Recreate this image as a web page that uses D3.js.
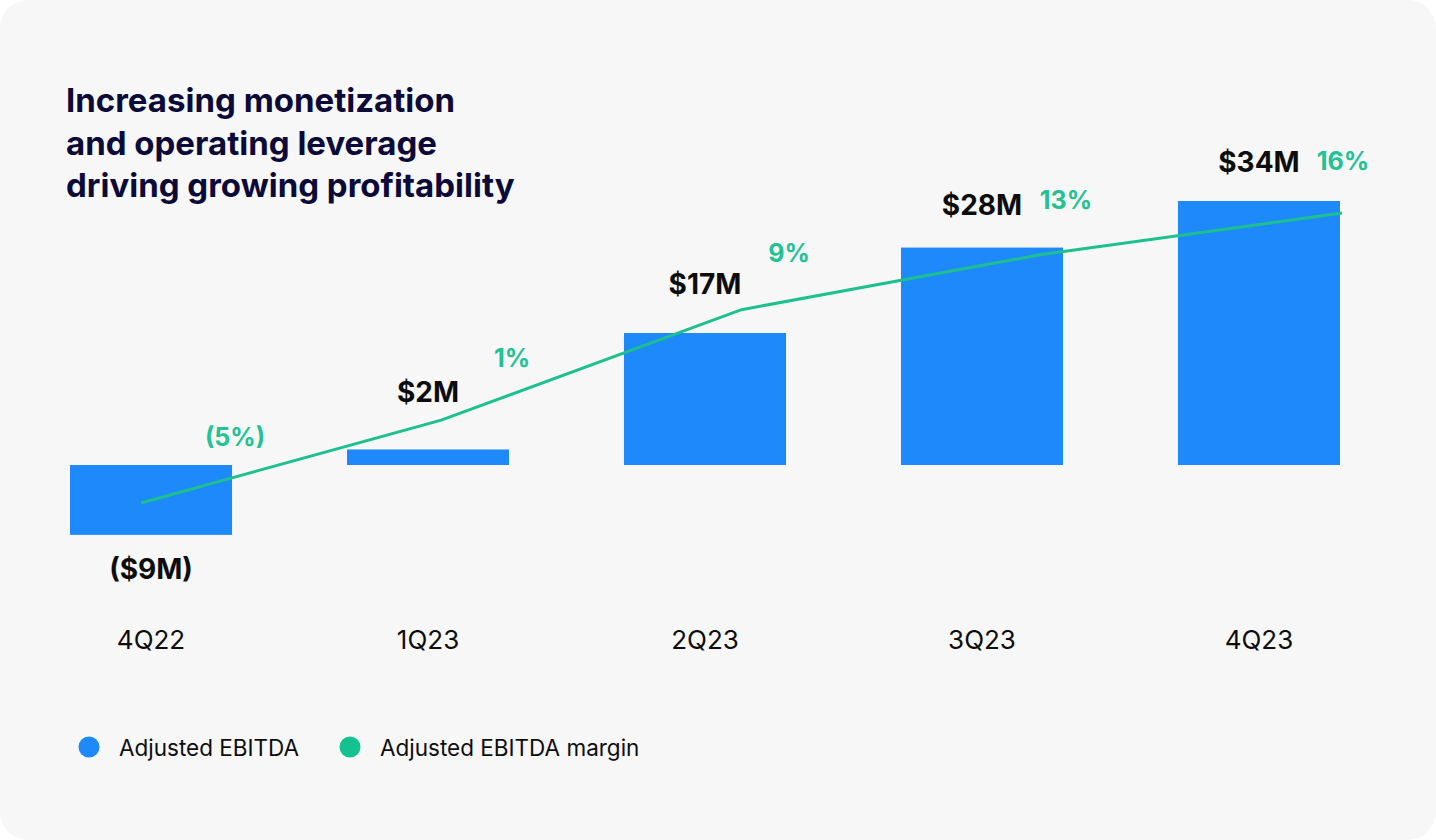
<!DOCTYPE html>
<html>
<head>
<meta charset="utf-8">
<script src="https://cdn.jsdelivr.net/npm/d3@7"></script>
<style>
  html, body { margin: 0; padding: 0; background: #ffffff; }
  svg { display: block; }
</style>
</head>
<body>
<div id="chart"></div>
<script>
// chart data
var quarters = ["4Q22", "1Q23", "2Q23", "3Q23", "4Q23"];
var ebitda = [-9, 2, 17, 28, 34];          // $M
var ebitdaLabels = ["($9M)", "$2M", "$17M", "$28M", "$34M"];
var margin = [-5, 1, 9, 13, 16];           // %
var marginLabels = ["(5%)", "1%", "9%", "13%", "16%"];
var titleLines = ["Increasing monetization", "and operating leverage", "driving growing profitability"];
var legendItems = ["Adjusted EBITDA", "Adjusted EBITDA margin"];

var width = 1436, height = 840;
var blue = "#1e89fb", green = "#1cc18f", ink = "#0d0d0d", navy = "#0b0a38";
var font = "Inter, 'Noto Sans', sans-serif";

var svg = d3.select("#chart").append("svg")
  .attr("width", width)
  .attr("height", height);

// card background
svg.append("rect")
  .attr("x", 0).attr("y", 0)
  .attr("width", width).attr("height", height)
  .attr("rx", 28).attr("ry", 28)
  .attr("fill", "#f7f7f7");

// title
svg.append("text")
  .attr("x", 66).attr("y", 112)
  .attr("font-family", font)
  .attr("font-weight", 700)
  .attr("font-size", "33px")
  .attr("fill", navy)
  .selectAll("tspan")
  .data(titleLines)
  .enter().append("tspan")
  .attr("x", 66)
  .attr("dy", function(d, i) { return i == 0 ? 0 : 42.5; })
  .text(function(d) { return d; });

// scales
var x = d3.scaleBand()
  .domain(quarters)
  .range([70, 1340])
  .paddingInner(0.415)
  .paddingOuter(0);

var y = d3.scaleLinear()
  .domain([0, 34])
  .range([465, 201]);

// the margin line uses its own spacing
var xLine = d3.scalePoint()
  .domain(quarters)
  .range([141, 1342]);

var yLine = d3.scaleLinear()
  .domain([-5, 16])
  .range([503, 213]);

// label baselines (labels do not sit at a fixed offset in the original)
var yValueLabel = d3.scaleLinear().domain([2, 34]).range([402, 172]);
var yPctLabel = d3.scaleLinear().domain([-5, 16]).range([446, 170]);

// bars
svg.selectAll(".bar")
  .data(ebitda)
  .enter().append("rect")
  .attr("class", "bar")
  .attr("x", function(d, i) { return x(quarters[i]); })
  .attr("y", function(d) { return y(Math.max(0, d)); })
  .attr("width", x.bandwidth())
  .attr("height", function(d) { return Math.abs(y(d) - y(0)); })
  .attr("fill", blue);

// margin line
var line = d3.line()
  .x(function(d, i) { return xLine(quarters[i]); })
  .y(function(d) { return yLine(d); });

svg.append("path")
  .datum(margin)
  .attr("d", line)
  .attr("fill", "none")
  .attr("stroke", green)
  .attr("stroke-width", 3);

// bar value labels
svg.selectAll(".vlabel")
  .data(ebitda)
  .enter().append("text")
  .attr("class", "vlabel")
  .attr("x", function(d, i) { return x(quarters[i]) + x.bandwidth() / 2; })
  .attr("y", function(d) { return d < 0 ? y(d) + 44 : yValueLabel(d); })
  .attr("text-anchor", "middle")
  .attr("font-family", font)
  .attr("font-weight", 700)
  .attr("font-size", "28px")
  .attr("fill", ink)
  .text(function(d, i) { return ebitdaLabels[i]; });

// margin labels, sitting by the right edge of each bar
svg.selectAll(".mlabel")
  .data(margin)
  .enter().append("text")
  .attr("class", "mlabel")
  .attr("x", function(d, i) { return x(quarters[i]) + x.bandwidth() + 3; })
  .attr("y", function(d) { return yPctLabel(d); })
  .attr("text-anchor", "middle")
  .attr("font-family", font)
  .attr("font-weight", 700)
  .attr("font-size", "25px")
  .attr("fill", "#22c294")
  .text(function(d, i) { return marginLabels[i]; });

// category axis, no line or ticks
var xAxis = svg.append("g")
  .attr("transform", "translate(0,623)")
  .call(d3.axisBottom(x).tickSize(0).tickPadding(8));
xAxis.select(".domain").remove();
xAxis.selectAll("text")
  .attr("font-family", font)
  .attr("font-size", "26px")
  .attr("fill", ink);

// legend
var legendX = [89, 350];
var legendColors = [blue, "#14c291"];
var legend = svg.selectAll(".legend")
  .data(legendItems)
  .enter().append("g")
  .attr("class", "legend")
  .attr("transform", function(d, i) { return "translate(" + legendX[i] + ",747)"; });

legend.append("circle")
  .attr("r", 10.5)
  .attr("fill", function(d, i) { return legendColors[i]; });

legend.append("text")
  .attr("x", 30)
  .attr("y", 8.5)
  .attr("font-family", font)
  .attr("font-size", "22.5px")
  .attr("fill", ink)
  .text(function(d) { return d; });
</script>
</body>
</html>
